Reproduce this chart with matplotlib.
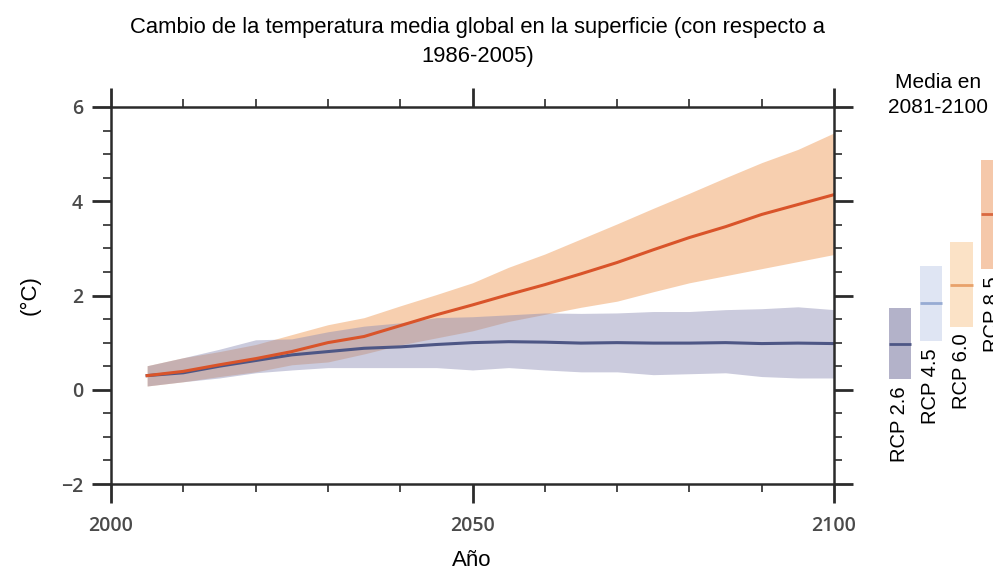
import numpy as np
import matplotlib.pyplot as plt
from matplotlib.ticker import MultipleLocator

# global mean surface temperature change vs 1986-2005
years = [2005, 2010, 2015, 2020, 2025, 2030, 2035, 2040, 2045, 2050,
         2055, 2060, 2065, 2070, 2075, 2080, 2085, 2090, 2095, 2100]
rcp85_mean = [0.30, 0.39, 0.53, 0.66, 0.81, 1.00, 1.13, 1.36, 1.59, 1.80,
              2.02, 2.23, 2.46, 2.70, 2.97, 3.23, 3.46, 3.72, 3.93, 4.14]
rcp85_high = [0.51, 0.68, 0.81, 0.96, 1.17, 1.38, 1.53, 1.78, 2.02, 2.27,
              2.60, 2.88, 3.20, 3.52, 3.85, 4.17, 4.50, 4.82, 5.10, 5.45]
rcp85_low = [0.08, 0.17, 0.28, 0.38, 0.53, 0.59, 0.76, 0.95, 1.10, 1.25,
             1.45, 1.60, 1.75, 1.88, 2.08, 2.27, 2.42, 2.57, 2.72, 2.87]
rcp26_mean = [0.30, 0.36, 0.50, 0.62, 0.74, 0.81, 0.88, 0.91, 0.96, 1.00,
              1.02, 1.01, 0.99, 1.00, 0.99, 0.99, 1.00, 0.98, 0.99, 0.98]
rcp26_high = [0.51, 0.68, 0.86, 1.06, 1.08, 1.23, 1.35, 1.42, 1.53, 1.55,
              1.59, 1.63, 1.62, 1.63, 1.66, 1.66, 1.70, 1.72, 1.76, 1.70]
rcp26_low = [0.08, 0.17, 0.25, 0.36, 0.42, 0.47, 0.47, 0.47, 0.47, 0.42,
             0.47, 0.42, 0.38, 0.38, 0.32, 0.34, 0.36, 0.28, 0.25, 0.25]

# 2081-2100 means and ranges
scenarios = ["RCP 2.6", "RCP 4.5", "RCP 6.0", "RCP 8.5"]
avg_2081_2100 = [0.98, 1.85, 2.23, 3.72]
low_2081_2100 = [0.22, 1.03, 1.34, 2.56]
high_2081_2100 = [1.74, 2.63, 3.13, 4.87]
bar_colors = ["#b3b2c9", "#dfe5f3", "#fbe2c6", "#f5c8aa"]
line_colors = ["#4d5685", "#97abd3", "#e8a26a", "#d9683f"]

plt.rcParams['font.family'] = ['Liberation Sans', 'DejaVu Sans']
tickFont = {'family': 'Open Sans', 'size': 14, 'color': '#4a4a4a', 'weight': 'semibold'}
axisColor = '#2b2b2b'

fig = plt.figure(figsize=(9.93, 5.68), dpi=100)
ax = fig.add_axes([111/993, 1 - 484/568, 723/993, 377/568])

ax.fill_between(years, rcp85_low, rcp85_high, color='#f0a060', alpha=0.5, lw=0)
ax.fill_between(years, rcp26_low, rcp26_high, color='#8c8cb4', alpha=0.45, lw=0)
ax.plot(years, rcp26_mean, color='#4d5685', lw=2.2)
ax.plot(years, rcp85_mean, color='#d9542a', lw=2.2)

ax.set_xlim(2000, 2100)
ax.set_ylim(-2, 6)
ax.set_xticks([2000, 2050, 2100])
ax.xaxis.set_minor_locator(MultipleLocator(10))
ax.set_yticks([-2, 0, 2, 4, 6])
ax.yaxis.set_minor_locator(MultipleLocator(0.5))
ax.set_yticklabels(['\u22122', '0', '2', '4', '6'])
ax.tick_params(which='both', direction='out', top=True, right=True,
               color=axisColor)
ax.tick_params(which='major', length=14, width=2)
ax.tick_params(which='minor', length=6, width=1.2)
ax.tick_params(axis='x', which='major', pad=9)
ax.tick_params(axis='y', which='major', pad=6)
for lab in ax.get_xticklabels() + ax.get_yticklabels():
  lab.set_fontfamily(tickFont['family'])
  lab.set_fontsize(tickFont['size'])
  lab.set_color(tickFont['color'])
  lab.set_fontweight(tickFont['weight'])
for sp in ax.spines.values():
  sp.set_color(axisColor)
  sp.set_linewidth(1.8)

fig.text(478/993, 1 - 42/568,
         "Cambio de la temperatura media global en la superficie (con respecto a\n1986-2005)",
         ha='center', va='center', fontsize=15.8, linespacing=1.5)
fig.text(30/993, 1 - 295/568, "(°C)", rotation=90, ha='center', va='center', fontsize=16)
fig.text(472/993, 1 - 561/568, "Año", ha='center', va='center', fontsize=16)

# 2081-2100 side panel
axr = fig.add_axes([880/993, 1 - 484/568, 130/993, 377/568])
axr.set_xlim(-0.65, 3.58)
axr.set_ylim(-2, 6)
axr.axis('off')
pos = np.arange(len(scenarios))
axr.bar(pos, np.array(high_2081_2100) - np.array(low_2081_2100), bottom=low_2081_2100,
        width=0.72, color=bar_colors, lw=0)
axr.hlines(avg_2081_2100, pos - 0.36, pos + 0.36, colors=line_colors, lw=2)
for p, lo, name in zip(pos, low_2081_2100, scenarios):
  axr.annotate(name, xy=(p, lo), xytext=(0, -5), textcoords='offset points',
               rotation=90, ha='center', va='top', fontsize=14.5)
fig.text(938/993, 1 - 95/568, "Media en\n2081-2100", ha='center', va='center',
         fontsize=15, linespacing=1.45)

plt.savefig("out.png", dpi=100)
